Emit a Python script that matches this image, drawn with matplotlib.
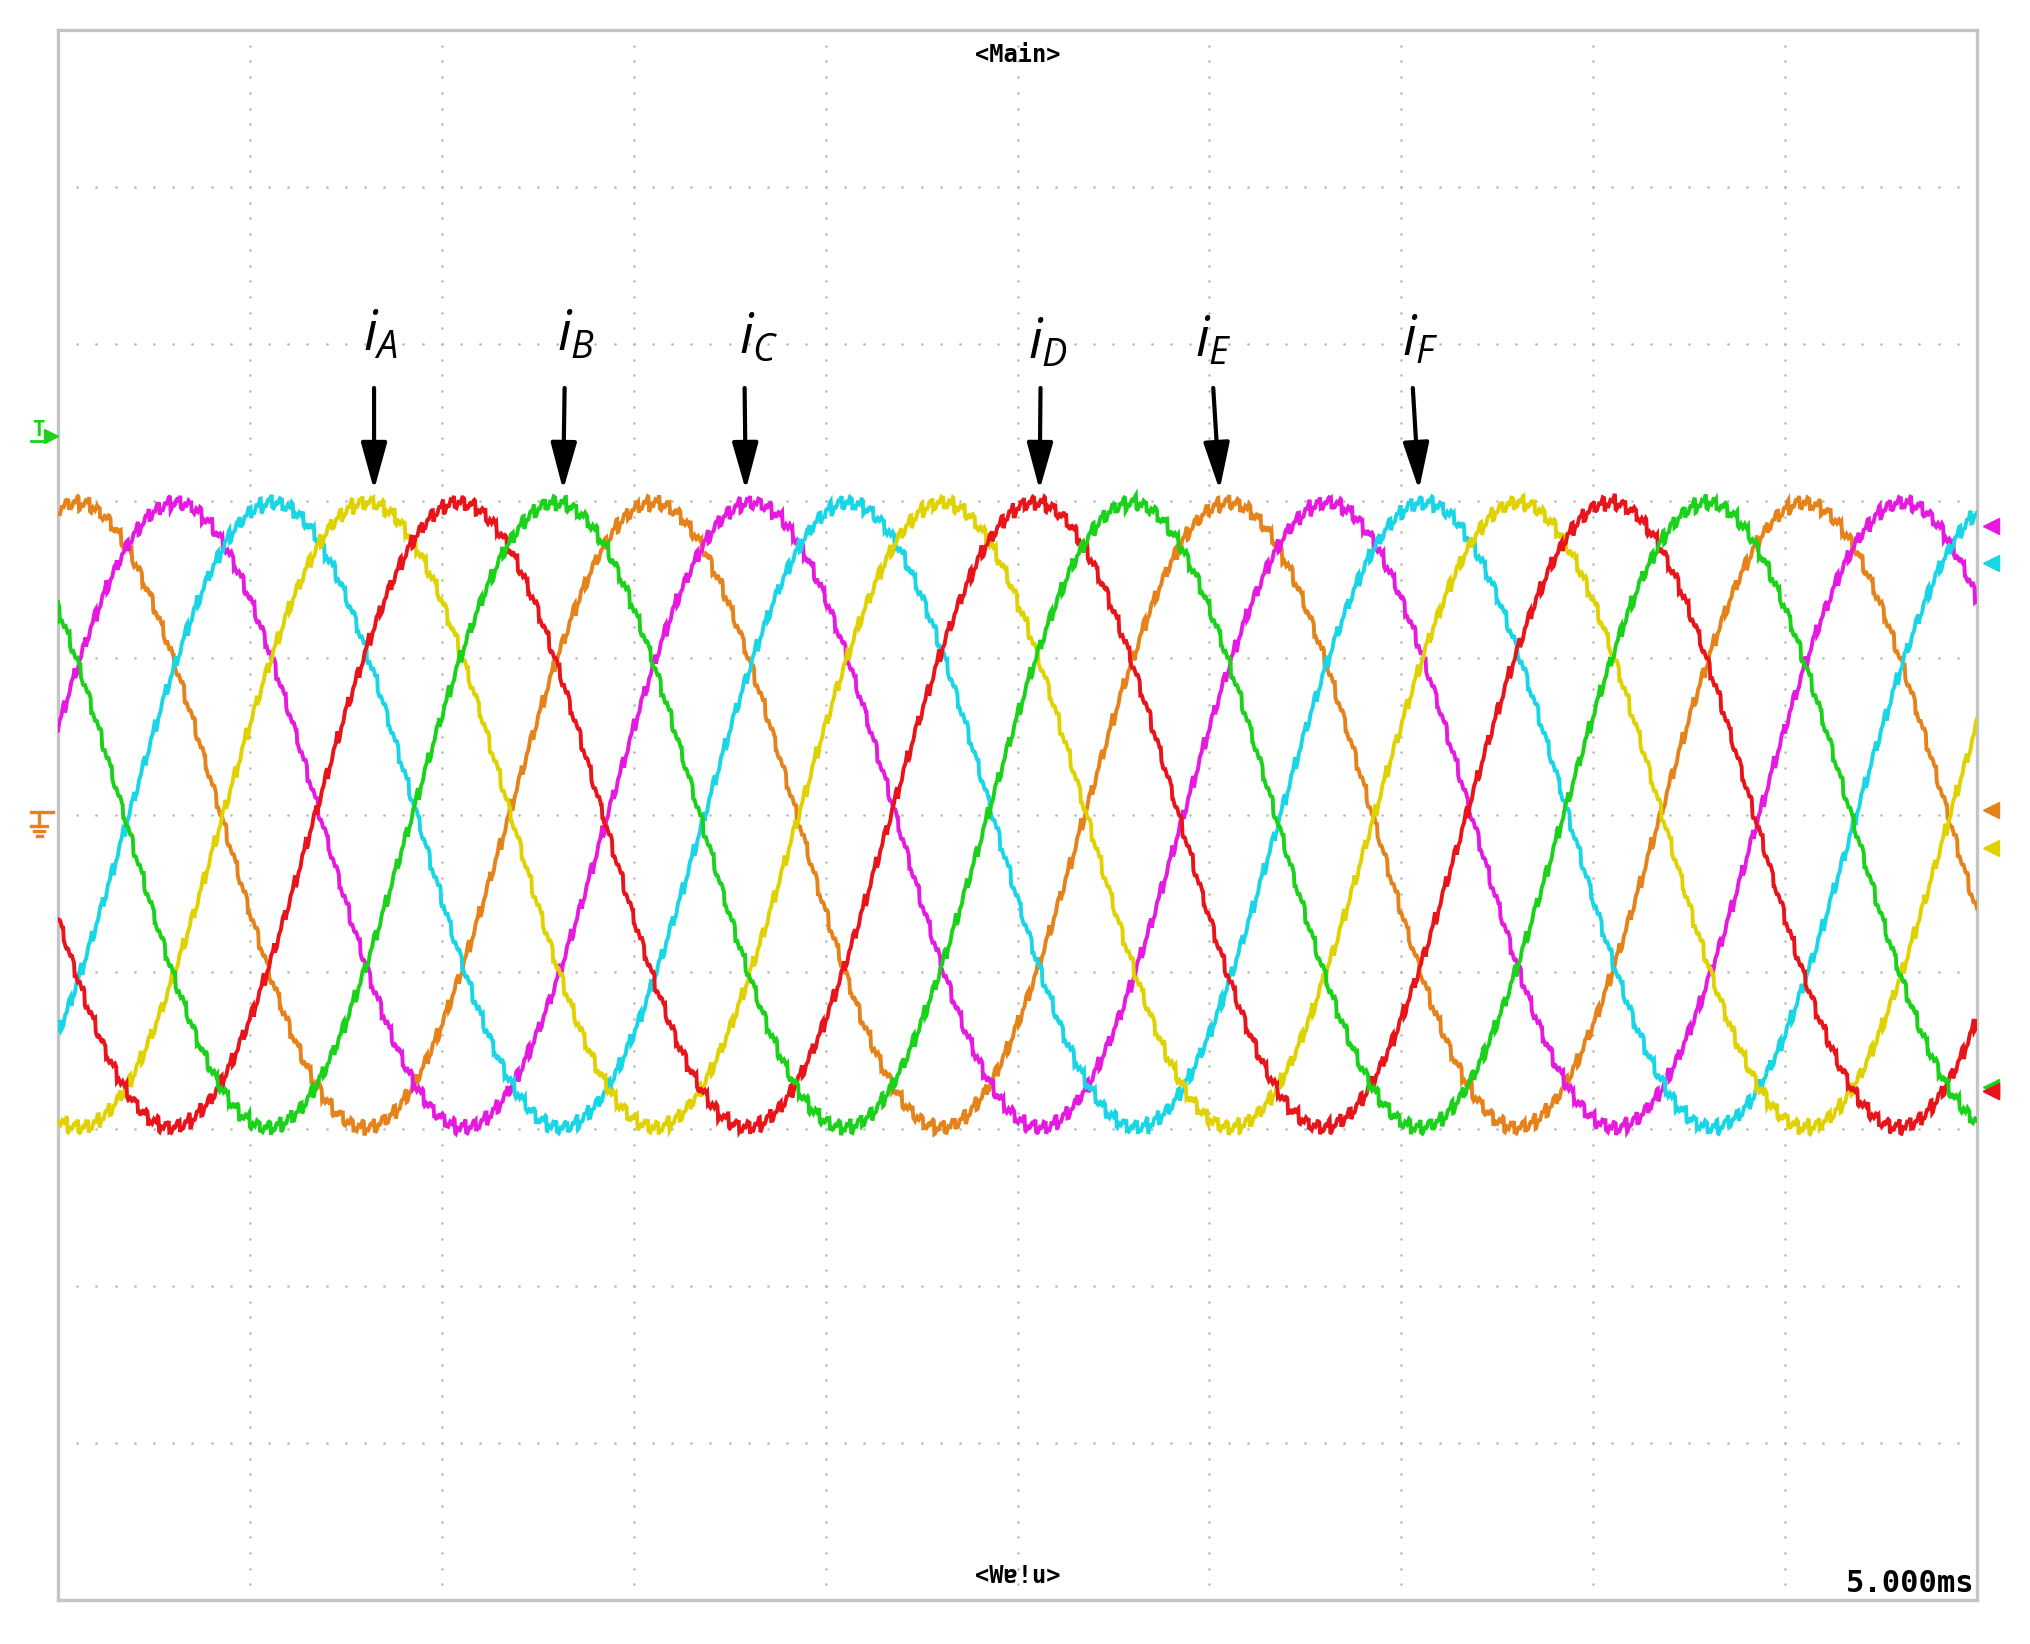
import numpy as np
import matplotlib
matplotlib.use("Agg")
import matplotlib.pyplot as plt
from matplotlib.lines import Line2D

# ---------------- data (units = divisions) -------------
channels     = ["orange", "magenta", "cyan", "yellow", "red", "green"]
trace_colors = ["#E5821A", "#E619E0", "#19D6E6", "#E0D200", "#E8141A", "#1AD21A"]
peak_time    = [0.10, 0.615, 1.12, 1.61, 2.09, 2.595]   # div, time of first positive peak
amplitude    = [1.99, 1.99, 1.99, 1.99, 1.99, 1.99]     # div
period       = 3.0                                     # div (15 ms at 5 ms/div)
ripple_amp   = 0.042                                   # div, switching ripple
ripple_per   = 0.055                                   # div
ref_levels   = [0.03, 1.84, 1.605, -0.21, -1.76, -1.73] # right-hand channel markers (div)

labels       = [r"$i_A$", r"$i_B$", r"$i_C$", r"$i_D$", r"$i_E$", r"$i_F$"]
label_x      = [1.68, 2.70, 3.65, 5.16, 6.02, 7.10]
label_y      = [2.96, 2.96, 2.94, 2.91, 2.92, 2.93]
arrow_tail_x = [1.647, 2.64, 3.578, 5.12, 6.02, 7.06]
arrow_tip_x  = [1.647, 2.632, 3.584, 5.115, 6.053, 7.092]
arrow_tail_y = 2.72
arrow_tip_y  = 2.07

timebase_text = "5.000ms"
top_text = "<Main>"
bottom_text = "<Wɐ!u>"   # mirrored "<Main>"

# ---------------- figure ----------------
plt.rcParams['mathtext.fontset'] = 'custom'
plt.rcParams['mathtext.it'] = 'Open Sans:italic'
plt.rcParams['mathtext.rm'] = 'Open Sans'

W, H = 2030, 1644
fig = plt.figure(figsize=(W / 100, H / 100), dpi=100)
fig.patch.set_facecolor("white")
L, R, T, B = 58, 1977, 30, 1600
ax = fig.add_axes([L / W, 1 - B / H, (R - L) / W, (B - T) / H])
ax.set_xlim(0, 10)
ax.set_ylim(-5, 5)
ax.set_xticks([])
ax.set_yticks([])
for s in ax.spines.values():
    s.set_color("#c4c4c4")
    s.set_linewidth(2.4)

# dotted graticule
step = 0.1
gx, gy = [], []
for g in range(1, 10):
    ys = np.arange(-5 + step, 5 - step / 2, step)
    gx += [g] * len(ys); gy += list(ys)
for g in range(-4, 5):
    xs = np.arange(step, 10 - step / 2, step)
    gx += list(xs); gy += [g] * len(xs)
ax.scatter(gx, gy, s=3.5, color="#b8b8b8", linewidths=0, zorder=1)

# traces
t = np.linspace(0, 10, 3001)
for k, (c, pk, a) in enumerate(zip(trace_colors, peak_time, amplitude)):
    ph = (t / ripple_per + 0.37 * k) % 1.0
    saw = 2 * ph - 1
    ph2 = (t / (ripple_per * 0.37) + 0.61 * k) % 1.0
    tri2 = 2 * np.abs(2 * ph2 - 1) - 1
    y = a * np.cos(2 * np.pi * (t - pk) / period) + ripple_amp * saw + 0.3 * ripple_amp * tri2
    ax.plot(t, y, color=c, lw=2.8, zorder=3 + k, solid_joinstyle="miter")

# right side reference markers
for c, lv in zip(trace_colors, ref_levels):
    ax.plot([10.075], [lv], marker="<", ms=12, color=c, clip_on=False, zorder=10)
ax.plot([10.075], [ref_levels[4]], marker="<", ms=12, color=trace_colors[4], clip_on=False, zorder=11)

# left side markers (pixel positions of the scope's trigger / ground symbols)
def fx(px):
    return px / W
def fy(py):
    return 1 - py / H

green_c = "#1AD21A"
fig.text(fx(38), fy(430), "T", color=green_c, fontsize=15, fontweight="bold",
         ha="center", va="center", family="DejaVu Sans Mono")
fig.add_artist(Line2D([fx(31), fx(46)], [fy(441), fy(441)], color=green_c, lw=2,
                      transform=fig.transFigure))
fig.add_artist(Line2D([fx(51)], [fy(436)], marker=">", ms=10, color=green_c,
                      transform=fig.transFigure))

orange_c = "#E5821A"
gnd = [([31, 53], [812, 812]), ([39, 39], [812, 826]), ([31, 47], [826, 826]),
       ([34, 44], [831, 831]), ([36.5, 41.5], [836, 836])]
for xs, ys in gnd:
    fig.add_artist(Line2D([fx(v) for v in xs], [fy(v) for v in ys], color=orange_c,
                          lw=2.4, transform=fig.transFigure))

# labels and arrows
for lab, lx, ly, tx, hx in zip(labels, label_x, label_y, arrow_tail_x, arrow_tip_x):
    ax.text(lx, ly, lab, fontsize=39, ha="center", va="baseline", color="black", zorder=20)
    ax.annotate("", xy=(hx, arrow_tip_y), xytext=(tx, arrow_tail_y),
                arrowprops=dict(arrowstyle="-|>,head_length=2.9,head_width=0.8",
                                mutation_scale=10, lw=3.0, color="black",
                                shrinkA=0, shrinkB=0), zorder=20)

# scope texts
ax.text(5.0, 4.84, top_text, fontsize=17, fontweight="bold", ha="center", va="center",
        family=["DejaVu Sans Mono", "DejaVu Sans"])
ax.text(5.0, -4.85, bottom_text, fontsize=17, fontweight="bold", ha="center", va="center",
        family=["DejaVu Sans Mono", "DejaVu Sans"])
ax.text(9.985, -4.985, timebase_text, fontsize=22, fontweight="bold", ha="right", va="bottom",
        family=["DejaVu Sans Mono"])

fig.savefig("out.png", dpi=100, facecolor="white")
